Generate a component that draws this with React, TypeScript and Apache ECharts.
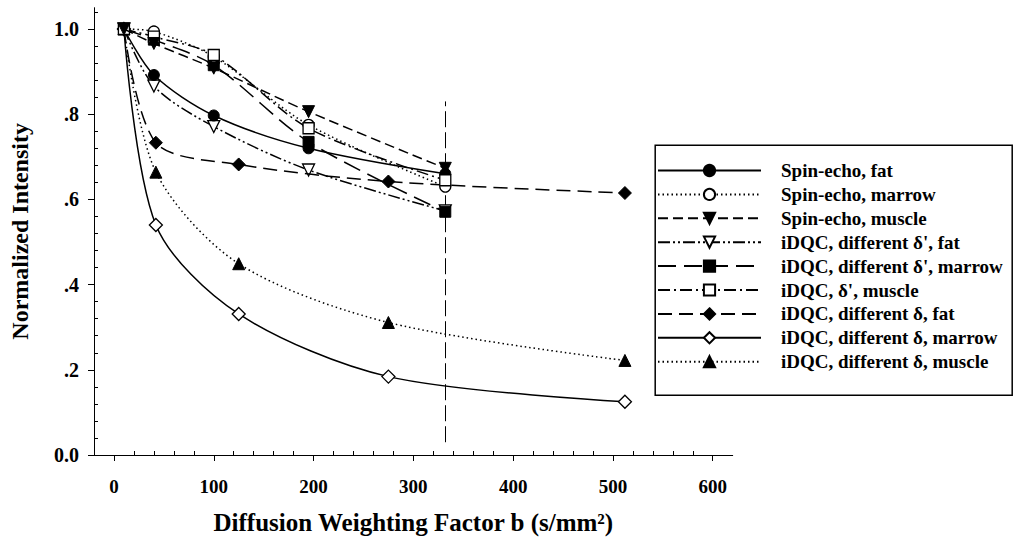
import React, { useEffect, useRef } from "react";
import * as echarts from "echarts";

// ---- data ----
const bSpinEcho = [10, 40, 100, 195, 332];
const bDelta = [10, 42, 125, 275, 512];

const seFat = [1.0, 0.892, 0.797, 0.72, 0.66];
const seMarrow = [1.0, 0.994, 0.935, 0.775, 0.63];
const seMuscle = [1.0, 0.966, 0.908, 0.806, 0.673];
const dpFat = [1.0, 0.866, 0.771, 0.669, 0.573];
const dpMarrow = [1.0, 0.975, 0.915, 0.735, 0.571];
const dpMuscle = [1.0, 0.982, 0.939, 0.767, 0.645];
const dFat = [1.0, 0.733, 0.682, 0.642, 0.615];
const dMarrow = [1.0, 0.54, 0.331, 0.184, 0.125];
const dMuscle = [1.0, 0.664, 0.449, 0.311, 0.222];

const seriesNames = [
  "Spin-echo, fat",
  "Spin-echo, marrow",
  "Spin-echo, muscle",
  "iDQC, different δ', fat",
  "iDQC, different δ', marrow",
  "iDQC, δ', muscle",
  "iDQC, different δ, fat",
  "iDQC, different δ, marrow",
  "iDQC, different δ, muscle",
];

const xMajorTicks = [0, 100, 200, 300, 400, 500, 600];
const xMinorTicks = [20, 40, 60, 80, 120, 140, 160, 180, 220, 240, 260, 280, 320, 340, 360, 380, 420, 440, 460, 480, 520, 540, 560, 580];
const yMajorTicks = [0, 0.2, 0.4, 0.6, 0.8, 1.0];
const yMinorTicks = [0.04, 0.08, 0.12, 0.16, 0.24, 0.28, 0.32, 0.36, 0.44, 0.48, 0.52, 0.56, 0.64, 0.68, 0.72, 0.76, 0.84, 0.88, 0.92, 0.96, 1.04];

const referenceB = 332;
const referenceSpan = [0.03, 0.83];

const FONT = "'Liberation Serif', 'Times New Roman', serif";

const styles = [
  { x: bSpinEcho, y: seFat, symbol: "circle", rot: 0, filled: true, dash: "solid", size: 11, z: 9 },
  { x: bSpinEcho, y: seMarrow, symbol: "circle", rot: 0, filled: false, dash: [1.5, 3], size: 11, z: 8 },
  { x: bSpinEcho, y: seMuscle, symbol: "triangle", rot: 180, filled: true, dash: [10, 5], size: 12, z: 10 },
  { x: bSpinEcho, y: dpFat, symbol: "triangle", rot: 180, filled: false, dash: [12, 3, 2, 3, 2, 3], size: 12, z: 5 },
  { x: bSpinEcho, y: dpMarrow, symbol: "rect", rot: 0, filled: true, dash: [18, 8], size: 11, z: 7 },
  { x: bSpinEcho, y: dpMuscle, symbol: "rect", rot: 0, filled: false, dash: [12, 4, 2, 4], size: 11, z: 9 },
  { x: bDelta, y: dFat, symbol: "diamond", rot: 0, filled: true, dash: [14, 7], size: 13, z: 6 },
  { x: bDelta, y: dMarrow, symbol: "diamond", rot: 0, filled: false, dash: "solid", size: 13, z: 6 },
  { x: bDelta, y: dMuscle, symbol: "triangle", rot: 0, filled: true, dash: [1.5, 3], size: 12, z: 6 },
];

export default function App() {
  const ref = useRef<HTMLDivElement>(null);
  useEffect(() => {
    if (!ref.current) return;
    const chart = echarts.init(ref.current, undefined, { renderer: "svg" });

    const series: any[] = styles.map((s, i) => ({
      name: seriesNames[i],
      type: "line",
      xAxisIndex: 0,
      yAxisIndex: 0,
      data: s.x.map((b, k) => [b, s.y[k]]),
      smooth: 0.3,
      symbol: s.symbol,
      symbolRotate: s.rot,
      symbolSize: s.size,
      lineStyle: { color: "#000", width: 1.5, type: s.dash },
      itemStyle: s.filled
        ? { color: "#000", borderColor: "#000", borderWidth: 1 }
        : { color: "#fff", borderColor: "#000", borderWidth: 1.3 },
      emphasis: { disabled: true },
      z: s.z,
    }));

    series[0].markLine = {
      silent: true,
      symbol: ["none", "none"],
      label: { show: false },
      lineStyle: { color: "#000", width: 1, type: [16, 5] },
      data: [[{ coord: [referenceB, referenceSpan[0]] }, { coord: [referenceB, referenceSpan[1]] }]],
    };

    const yFmt = (v: number) => {
      if (Math.abs(v) < 1e-9) return "0.0";
      if (Math.abs(v - 1) < 1e-9) return "1.0";
      return "." + Math.round(v * 10);
    };

    chart.setOption({
      animation: false,
      backgroundColor: "#fff",
      grid: { left: 93.3, top: 7.7, right: 281.3, bottom: 86, containLabel: false },
      xAxis: [
        {
          type: "value",
          min: -20,
          max: 620,
          position: "bottom",
          name: "Diffusion Weighting Factor b (s/mm²)",
          nameLocation: "middle",
          nameGap: 55,
          nameTextStyle: { fontFamily: FONT, fontWeight: "bold", fontSize: 25, color: "#000" },
          axisLine: { show: true, onZero: false, lineStyle: { color: "#000", width: 1 } },
          axisTick: { show: true, inside: false, length: 6, customValues: xMajorTicks, lineStyle: { color: "#000", width: 1 } },
          axisLabel: { show: true, customValues: xMajorTicks, margin: 22, fontFamily: FONT, fontWeight: "bold", fontSize: 19, color: "#000" },
          splitLine: { show: false },
        },
        {
          type: "value",
          min: -20,
          max: 620,
          position: "bottom",
          axisLine: { show: false, onZero: false },
          axisTick: { show: true, inside: true, length: 4, customValues: xMinorTicks, lineStyle: { color: "#000", width: 1 } },
          axisLabel: { show: false },
          splitLine: { show: false },
        },
      ],
      yAxis: [
        {
          type: "value",
          min: 0,
          max: 1.05,
          position: "left",
          name: "Normalized Intensity",
          nameLocation: "middle",
          nameGap: 62,
          nameTextStyle: { fontFamily: FONT, fontWeight: "bold", fontSize: 24, color: "#000" },
          axisLine: { show: true, onZero: false, lineStyle: { color: "#000", width: 1 } },
          axisTick: { show: true, inside: false, length: 6, customValues: yMajorTicks, lineStyle: { color: "#000", width: 1 } },
          axisLabel: { show: true, customValues: yMajorTicks, margin: 15, formatter: yFmt, fontFamily: FONT, fontWeight: "bold", fontSize: 20, color: "#000" },
          splitLine: { show: false },
        },
        {
          type: "value",
          min: 0,
          max: 1.05,
          position: "left",
          axisLine: { show: false, onZero: false },
          axisTick: { show: true, inside: true, length: 4, customValues: yMinorTicks, lineStyle: { color: "#000", width: 1 } },
          axisLabel: { show: false },
          splitLine: { show: false },
        },
      ],
      legend: {
        orient: "vertical",
        left: 657,
        top: 161,
        padding: 0,
        itemWidth: 103,
        itemHeight: 14,
        itemGap: 4.9,
        selectedMode: false,
        data: seriesNames,
        textStyle: { fontFamily: FONT, fontWeight: "bold", fontSize: 19, color: "#000", padding: [0, 0, 0, 15] },
      },
      graphic: [
        {
          type: "rect",
          left: 652.7,
          top: 142.7,
          shape: { width: 357, height: 250 },
          style: { fill: "none", stroke: "#000", lineWidth: 1.5 },
          silent: true,
          z: 0,
        },
      ],
      series,
    });

    return () => chart.dispose();
  }, []);

  return <div ref={ref} style={{ position: "fixed", left: 0, top: 0, width: 1014, height: 541, background: "#fff" }} />;
}
